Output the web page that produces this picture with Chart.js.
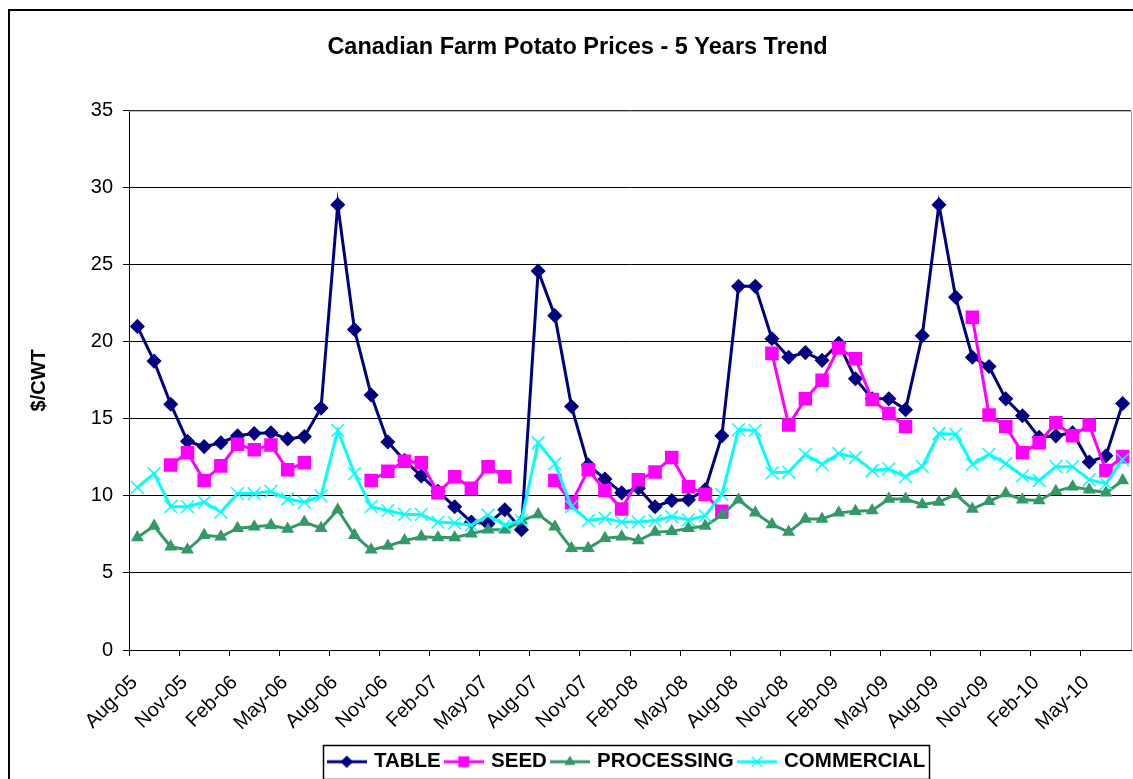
<!DOCTYPE html>
<html>
<head>
<meta charset="utf-8">
<script src="https://cdn.jsdelivr.net/npm/chart.js@4/dist/chart.umd.min.js"></script>
<style>
  html, body { margin: 0; padding: 0; background: #fff; }
  canvas { display: block; }
</style>
</head>
<body>
<canvas id="potatoChart" width="1133" height="779"></canvas>
<script>
// monthly categories, Aug-05 .. Jul-10
const months = ['Aug-05','Sep-05','Oct-05','Nov-05','Dec-05','Jan-06','Feb-06','Mar-06','Apr-06','May-06','Jun-06','Jul-06',
  'Aug-06','Sep-06','Oct-06','Nov-06','Dec-06','Jan-07','Feb-07','Mar-07','Apr-07','May-07','Jun-07','Jul-07',
  'Aug-07','Sep-07','Oct-07','Nov-07','Dec-07','Jan-08','Feb-08','Mar-08','Apr-08','May-08','Jun-08','Jul-08',
  'Aug-08','Sep-08','Oct-08','Nov-08','Dec-08','Jan-09','Feb-09','Mar-09','Apr-09','May-09','Jun-09','Jul-09',
  'Aug-09','Sep-09','Oct-09','Nov-09','Dec-09','Jan-10','Feb-10','Mar-10','Apr-10','May-10','Jun-10','Jul-10'];

const tableVals = [21.0,18.75,15.95,13.55,13.2,13.45,13.9,14.05,14.1,13.7,13.85,15.7,
  28.9,20.8,16.55,13.5,12.3,11.3,10.3,9.3,8.3,8.2,9.1,7.8,
  24.6,21.7,15.8,12.0,11.1,10.2,10.5,9.3,9.7,9.75,10.4,13.9,
  23.6,23.6,20.2,19.0,19.3,18.8,19.9,17.6,16.3,16.3,15.6,20.4,
  28.9,22.9,19.0,18.4,16.3,15.2,13.8,13.9,14.1,12.2,12.6,16.0];

const seedVals = [null,null,12.0,12.8,11.0,11.95,13.35,13.0,13.3,11.7,12.15,null,
  null,null,11.0,11.6,12.25,12.15,10.2,11.25,10.5,11.9,11.25,null,
  null,11.0,9.55,11.7,10.35,9.15,11.05,11.55,12.5,10.6,10.1,9.0,
  null,null,19.25,14.6,16.3,17.5,19.6,18.9,16.25,15.35,14.5,null,
  null,null,21.6,15.25,14.5,12.8,13.45,14.75,13.9,14.6,11.65,12.55];

const processingVals = [7.3,8.05,6.7,6.5,7.45,7.35,7.9,8.0,8.1,7.85,8.3,7.9,
  9.1,7.45,6.5,6.75,7.1,7.35,7.3,7.3,7.55,7.8,7.8,8.4,
  8.8,8.0,6.6,6.6,7.25,7.35,7.1,7.65,7.7,7.9,8.05,8.75,
  9.75,8.9,8.15,7.65,8.5,8.5,8.9,9.0,9.05,9.8,9.8,9.45,
  9.6,10.1,9.15,9.65,10.15,9.75,9.7,10.3,10.6,10.4,10.2,11.0];

const commercialVals = [10.55,11.45,9.3,9.3,9.6,8.95,10.15,10.15,10.3,9.8,9.6,10.0,
  14.25,11.45,9.3,9.05,8.8,8.8,8.3,8.25,8.1,8.75,8.1,8.4,
  13.45,12.1,9.3,8.4,8.55,8.3,8.3,8.4,8.65,8.45,8.7,10.1,
  14.3,14.25,11.5,11.55,12.7,12.05,12.75,12.5,11.65,11.75,11.25,11.9,
  14.05,14.0,12.05,12.7,12.1,11.3,11.0,11.9,11.9,11.05,10.8,12.35];

const yTicks = [0,5,10,15,20,25,30,35];

const FONT = "'Liberation Sans', Arial, sans-serif";

// little line+marker picture for the legend
function legendIcon(color, style, radius) {
  const c = document.createElement('canvas');
  c.width = 40; c.height = 16;
  const g = c.getContext('2d');
  g.strokeStyle = color; g.fillStyle = color; g.lineWidth = 3;
  g.beginPath(); g.moveTo(0, 8); g.lineTo(40, 8); g.stroke();
  g.lineWidth = 1.5;
  Chart.helpers.drawPoint(g, {pointStyle: style, radius: radius, borderWidth: 1.5, rotation: 0}, 20, 8);
  return c;
}

function series(label, data, color, style, radius, order) {
  return {
    label: label, data: data, order: order,
    borderColor: color, backgroundColor: color,
    borderWidth: 3, tension: 0, spanGaps: false,
    pointStyle: style, pointRadius: radius,
    pointBorderColor: color, pointBackgroundColor: color, pointBorderWidth: 1.5,
    legendIcon: legendIcon(color, style, radius * 0.8)
  };
}

const frame = {
  id: 'frame',
  afterLayout(chart) {
    // Excel centres title and legend on the whole (cropped) chart object
    const t = chart.titleBlock;
    t.left += 12; t.right += 12;
    const lg = chart.legend;
    lg.left += 62; lg.right += 62;
    lg.top += 3; lg.bottom += 3;
  },
  beforeDraw(chart) {
    const c = chart.ctx;
    c.save(); c.fillStyle = '#fff'; c.fillRect(0, 0, chart.width, chart.height); c.restore();
  },
  afterDraw(chart) {
    const c = chart.ctx, a = chart.chartArea;
    c.save();
    // outer chart border (runs off the right and bottom edges like the original)
    c.strokeStyle = '#000'; c.lineWidth = 2;
    c.strokeRect(9, 10, chart.width + 20, chart.height + 20);
    // plot area top and right edges
    c.strokeStyle = '#a0a0a0'; c.lineWidth = 1;
    c.beginPath();
    c.moveTo(a.left, a.top + 0.5); c.lineTo(a.right + 0.5, a.top + 0.5);
    c.lineTo(a.right + 0.5, a.bottom); c.stroke();
    // legend box
    const hb = chart.legend.legendHitBoxes;
    if (hb && hb.length) {
      let l = Infinity, r = -Infinity, t = Infinity, b = -Infinity;
      hb.forEach(h => { l = Math.min(l, h.left); r = Math.max(r, h.left + h.width); t = Math.min(t, h.top); b = Math.max(b, h.top + h.height); });
      c.strokeStyle = '#000'; c.lineWidth = 1.5;
      c.strokeRect(Math.round(l) - 6.5, Math.round(t) - 6.5, Math.round(r - l) + 10, Math.round(b - t) + 13);
    }
    c.restore();
  }
};

new Chart(document.getElementById('potatoChart'), {
  type: 'line',
  data: {
    labels: months,
    datasets: [
      series('TABLE', tableVals, '#000080', 'rectRot', 6.5, 4),
      series('SEED', seedVals, '#ff00ff', 'rect', 8.5, 3),
      series('PROCESSING', processingVals, '#339966', 'triangle', 6, 2),
      series('COMMERCIAL', commercialVals, '#00ffff', 'crossRot', 9, 1)
    ]
  },
  options: {
    responsive: false,
    devicePixelRatio: 1,
    animation: false,
    layout: { autoPadding: false, padding: { left: 0, right: 2, top: 0, bottom: 0 } },
    plugins: {
      tooltip: { enabled: false },
      title: {
        display: true,
        text: 'Canadian Farm Potato Prices - 5 Years Trend',
        color: '#000',
        font: { family: FONT, size: 23.5, weight: 'bold' },
        padding: { top: 33, bottom: 49.5 }
      },
      legend: {
        position: 'bottom',
        labels: {
          color: '#000',
          font: { family: FONT, size: 20.5, weight: 'bold' },
          usePointStyle: true,
          pointStyleWidth: 34,
          padding: 6,
          sort: (a, b) => a.datasetIndex - b.datasetIndex,
          generateLabels: (chart) => chart.data.datasets.map((ds, i) => ({
            text: ds.label, datasetIndex: i, pointStyle: ds.legendIcon,
            fillStyle: ds.borderColor, strokeStyle: ds.borderColor, lineWidth: 0,
            fontColor: '#000', hidden: false
          }))
        }
      }
    },
    scales: {
      x: {
        type: 'category',
        offset: true,
        border: { color: '#000', width: 1 },
        grid: {
          offset: true, drawOnChartArea: false, drawTicks: true, tickLength: 6,
          color: (ctx) => (ctx.index % 3 === 0 ? '#000' : 'rgba(0,0,0,0)')
        },
        ticks: {
          autoSkip: false, maxRotation: 45, minRotation: 45, padding: 15, labelOffset: -3,
          color: '#000', font: { family: FONT, size: 20 },
          callback: (v, i) => (i % 3 === 0 ? months[i] : '')
        },
        afterFit: (scale) => {
          scale.height = scale.chart.height - 650 - scale.chart.legend.height;
          scale.paddingLeft = 0; scale.paddingRight = 0;
        }
      },
      y: {
        min: 0, max: 35,
        border: { color: '#000', width: 1 },
        grid: { color: '#000', lineWidth: 1, tickLength: 6 },
        afterBuildTicks: (scale) => { scale.ticks = yTicks.map(v => ({ value: v })); },
        ticks: { color: '#000', padding: 10, font: { family: FONT, size: 20 } },
        title: {
          display: true, text: '$/CWT', color: '#000',
          font: { family: FONT, size: 20, weight: 'bold' },
          padding: { top: 27, bottom: 0 }
        },
        afterFit: (scale) => { scale.width = 129; }
      }
    }
  },
  plugins: [frame]
});
</script>
</body>
</html>
